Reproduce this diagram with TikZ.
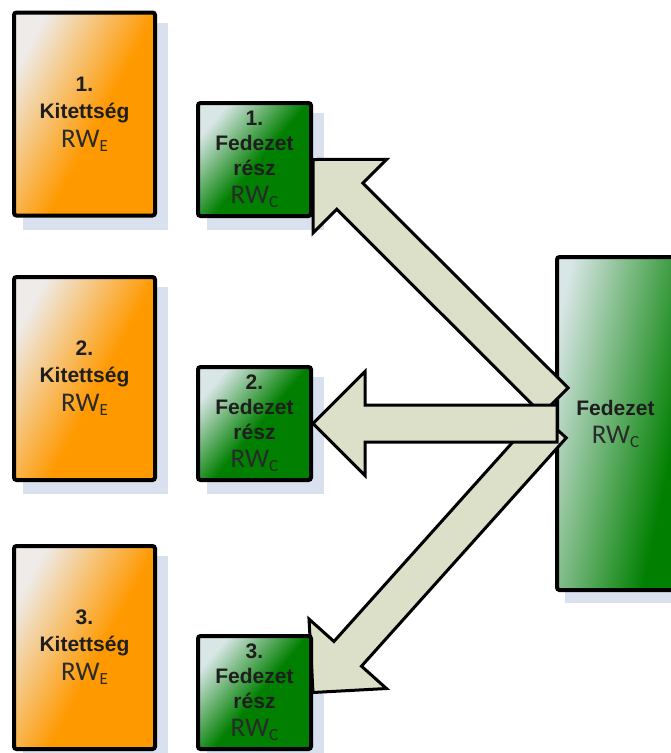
\documentclass[tikz,border=0pt]{standalone}
\usepackage{fontspec}
\usetikzlibrary{calc}
\newfontfamily\labf{Liberation Sans}
\newfontfamily\rwf{Carlito}
\definecolor{orC}{HTML}{FF9900}
\definecolor{orL}{HTML}{EEEBE8}
\definecolor{grC}{HTML}{007F00}
\definecolor{grL}{HTML}{D8E6E6}
\definecolor{arrC}{HTML}{DDE0C9}
\definecolor{shC}{HTML}{D9E1EE}
\definecolor{txtC}{HTML}{1E1E1E}
\definecolor{rwC}{HTML}{2A2A2A}
\pgfdeclarehorizontalshading{orsh}{100bp}{color(0bp)=(orL); color(25bp)=(orL); color(55bp)=(orC); color(100bp)=(orC)}
\pgfdeclarehorizontalshading{grsh}{100bp}{color(0bp)=(grL); color(25bp)=(grL); color(52bp)=(grC); color(100bp)=(grC)}
\pgfdeclarehorizontalshading{bigsh}{100bp}{color(0bp)=(grL); color(25bp)=(grL); color(70bp)=(grC); color(100bp)=(grC)}
\pgfdeclarelayer{shadowlayer}
\pgfdeclarelayer{biglayer}
\pgfdeclarelayer{arrowlayer}
\pgfsetlayers{shadowlayer,biglayer,arrowlayer,main}
\newcommand{\bl}[1]{{\labf\bfseries #1}}
\newcommand{\rw}[1]{{\rwf\color{rwC}\fontsize{27}{29}\selectfont RW\raisebox{-4pt}{\fontsize{17}{17}\selectfont #1}}}
\newcommand{\fatarrow}[2]{%
  \path ($(#1)!52pt!(#2)$) coordinate (headc);
  \draw[fat] (#1) -- ($(headc)!52pt!90:(#2)$) -- ($(headc)!18.5pt!90:(#2)$)
    -- ($(#2)!18.5pt!-90:(headc)$) -- ($(#2)!18.5pt!90:(headc)$)
    -- ($(headc)!18.5pt!-90:(#2)$) -- ($(headc)!52pt!-90:(#2)$) -- cycle;}
\tikzset{
  box/.style={draw=black, line width=4pt, rounded corners=2.5pt, inner sep=0pt,
    align=center, text=txtC},
  expo/.style={box, shading=orsh, shading angle=-28, minimum width=141pt,
    minimum height=203pt, font={\fontsize{21}{27}\selectfont}},
  part/.style={box, shading=grsh, shading angle=-40, minimum width=113pt,
    minimum height=113pt, font={\fontsize{21}{25}\selectfont}},
  total/.style={box, shading=bigsh, shading angle=-12, minimum width=117pt,
    minimum height=333pt, font={\fontsize{21}{25}\selectfont}},
  fat/.style={draw=black, line width=3pt, fill=arrC, line join=miter},
  shadowfill/.style={fill=shC}
}
\begin{document}
\begin{tikzpicture}[x=1pt,y=-1pt]
\useasboundingbox (0,0) rectangle (670,753);
% exposures
\node[expo] (e1) at (84.5,114) {\bl{1.}\\\bl{Kitettség}\\[2pt]\rw{E}};
\node[expo] (e2) at (84.5,378.5) {\bl{2.}\\\bl{Kitettség}\\[2pt]\rw{E}};
\node[expo] (e3) at (84.5,647.5) {\bl{3.}\\\bl{Kitettség}\\[2pt]\rw{E}};
% collateral parts
\node[part] (p1) at (254.5,159.5) {\bl{1.}\\\bl{Fedezet}\\\bl{rész}\\[3pt]\rw{C}};
\node[part] (p2) at (254.5,423.5) {\bl{2.}\\\bl{Fedezet}\\\bl{rész}\\[3pt]\rw{C}};
\node[part] (p3) at (254.5,692.5) {\bl{3.}\\\bl{Fedezet}\\\bl{rész}\\[3pt]\rw{C}};
% total collateral
\begin{pgfonlayer}{biglayer}
\node[total] (big) at (615.5,423.5) {\bl{Fedezet}\\[3pt]\rw{C}};
\end{pgfonlayer}
% arrows
\begin{pgfonlayer}{arrowlayer}
\coordinate (t1) at ($(big.west)+(0pt,22.5pt)$);
\coordinate (t2) at ($(big.west)+(2pt,0pt)$);
\coordinate (t3) at ($(big.west)+(-2.5pt,-2pt)$);
\fatarrow{p1.east}{t1}
\fatarrow{p3.east}{t3}
\fatarrow{p2.east}{t2}
\end{pgfonlayer}
% shadows
\begin{pgfonlayer}{shadowlayer}
\foreach \n in {e1,e2,e3,p1,p2,p3}
  \fill[shadowfill] ($(\n.south west)+(11pt,-12pt)$) rectangle ($(\n.north east)+(11pt,-12pt)$);
\fill[shadowfill] ($(big.south west)+(10pt,-11pt)$) rectangle ($(big.north east)+(10pt,-11pt)$);
\end{pgfonlayer}
\end{tikzpicture}
\end{document}
